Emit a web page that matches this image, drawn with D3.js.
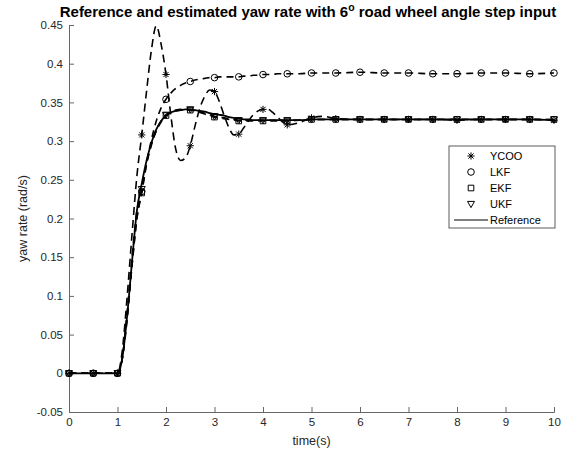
<!DOCTYPE html>
<html>
<head>
<meta charset="utf-8">
<script src="https://cdn.jsdelivr.net/npm/d3@7"></script>
<style>
  body { margin: 0; background: #fff; }
  svg { font-family: "Liberation Sans", Arial, sans-serif; }
</style>
</head>
<body>
<div id="chart"></div>
<script>
// time samples (s)
const time = [0, 0.5, 1.0, 1.1, 1.2, 1.3, 1.4, 1.5, 1.6, 1.7,
  1.8, 1.9, 2.0, 2.1, 2.2, 2.3, 2.4, 2.5, 2.6, 2.7,
  2.8, 2.9, 3.0, 3.1, 3.2, 3.3, 3.4, 3.5, 3.6, 3.7,
  3.8, 3.9, 4.0, 4.1, 4.2, 4.3, 4.4, 4.5, 4.75, 5.0,
  5.25, 5.5, 6.0, 6.5, 7.0, 7.5, 8.0, 8.5, 9.0, 9.5,
  10.0];

const ycoo = [0, 0, 0, 0.03, 0.10, 0.18, 0.255, 0.308, 0.365, 0.418,
  0.449, 0.425, 0.386, 0.333, 0.29, 0.275, 0.278, 0.294, 0.32, 0.343,
  0.358, 0.366, 0.364, 0.351, 0.333, 0.317, 0.308, 0.309, 0.317, 0.326,
  0.334, 0.339, 0.341, 0.341, 0.337, 0.331, 0.325, 0.321, 0.324, 0.330,
  0.332, 0.329, 0.328, 0.328, 0.328, 0.328, 0.327, 0.328, 0.328, 0.328,
  0.327];

const lkf = [0, 0, 0, 0.02, 0.075, 0.14, 0.2, 0.235, 0.272, 0.302,
  0.326, 0.343, 0.354, 0.362, 0.368, 0.372, 0.375, 0.377, 0.379, 0.380,
  0.381, 0.382, 0.382, 0.383, 0.383, 0.383, 0.383, 0.383, 0.384, 0.384,
  0.385, 0.385, 0.386, 0.386, 0.386, 0.387, 0.387, 0.387, 0.387, 0.388,
  0.388, 0.388, 0.389, 0.388, 0.388, 0.387, 0.387, 0.388, 0.388, 0.387,
  0.388];

const ekf = [0, 0, 0, 0.02, 0.07, 0.14, 0.2, 0.233, 0.27, 0.295,
  0.313, 0.325, 0.333, 0.337, 0.339, 0.340, 0.340, 0.340, 0.339, 0.337,
  0.335, 0.333, 0.331, 0.330, 0.329, 0.328, 0.327, 0.326, 0.326, 0.326,
  0.326, 0.326, 0.326, 0.326, 0.326, 0.326, 0.326, 0.326, 0.327, 0.328,
  0.328, 0.328, 0.328, 0.328, 0.328, 0.328, 0.328, 0.328, 0.328, 0.328,
  0.328];

const ukf = [0, 0, 0, 0.02, 0.08, 0.15, 0.21, 0.238, 0.272, 0.297,
  0.314, 0.326, 0.334, 0.338, 0.340, 0.341, 0.341, 0.341, 0.340, 0.338,
  0.336, 0.334, 0.332, 0.331, 0.330, 0.329, 0.328, 0.327, 0.327, 0.327,
  0.327, 0.327, 0.327, 0.327, 0.327, 0.327, 0.327, 0.327, 0.327, 0.328,
  0.328, 0.328, 0.328, 0.328, 0.328, 0.328, 0.328, 0.328, 0.328, 0.328,
  0.328];

const reference = [0, 0, 0, 0.02, 0.075, 0.145, 0.21, 0.245, 0.275, 0.298,
  0.315, 0.326, 0.333, 0.337, 0.339, 0.340, 0.341, 0.341, 0.340, 0.339,
  0.338, 0.336, 0.335, 0.334, 0.333, 0.331, 0.330, 0.329, 0.328, 0.328,
  0.327, 0.327, 0.327, 0.327, 0.327, 0.327, 0.327, 0.327, 0.327, 0.328,
  0.328, 0.328, 0.328, 0.328, 0.328, 0.328, 0.328, 0.328, 0.328, 0.328,
  0.327];

const xTicks = [0, 1, 2, 3, 4, 5, 6, 7, 8, 9, 10];
const yTicks = [-0.05, 0, 0.05, 0.1, 0.15, 0.2, 0.25, 0.3, 0.35, 0.4, 0.45];
const yTickLabels = ["-0.05", "0", "0.05", "0.1", "0.15", "0.2", "0.25", "0.3", "0.35", "0.4", "0.45"];
const legendNames = ["YCOO", "LKF", "EKF", "UKF", "Reference"];

const margin = { top: 25, right: 12, bottom: 42, left: 69 },
  width = 566 - margin.left - margin.right,
  height = 454 - margin.top - margin.bottom;

const svg = d3.select("#chart").append("svg")
  .attr("width", 566)
  .attr("height", 454);

const g = svg.append("g")
  .attr("transform", "translate(" + margin.left + "," + margin.top + ")");

const x = d3.scaleLinear().domain([0, 10]).range([0, width]);
const y = d3.scaleLinear().domain([-0.05, 0.45]).range([height, 0]);

// axes (MATLAB style, ticks pointing inward, box off)
const xAxis = g.append("g")
  .attr("transform", "translate(0," + height + ")")
  .call(d3.axisBottom(x).tickValues(xTicks).tickSize(-5).tickPadding(6).tickFormat(d => String(d)));
const yAxis = g.append("g")
  .call(d3.axisLeft(y).tickValues(yTicks).tickSize(-5).tickPadding(6)
    .tickFormat((d, i) => yTickLabels[i]));

[xAxis, yAxis].forEach(a => {
  a.select(".domain").attr("stroke", "#666").attr("stroke-width", 1);
  a.selectAll(".tick line").attr("stroke", "#666");
  a.selectAll(".tick text").attr("fill", "#262626").style("font-size", "11.5px");
});

// curves
const series = [
  { key: "YCOO", values: ycoo, dash: "8,5", marker: "asterisk" },
  { key: "LKF", values: lkf, dash: "7,5", marker: "circle" },
  { key: "EKF", values: ekf, dash: "7,5", marker: "square" },
  { key: "UKF", values: ukf, dash: "7,5", marker: "triangle" },
  { key: "Reference", values: reference, dash: null, marker: null }
];

const line = d3.line()
  .x((d, i) => x(time[i]))
  .y(d => y(d))
  .curve(d3.curveMonotoneX);

series.forEach(s => {
  g.append("path")
    .attr("d", line(s.values))
    .attr("fill", "none")
    .attr("stroke", "#000")
    .attr("stroke-width", s.dash ? 1.6 : 1.8)
    .attr("stroke-dasharray", s.dash);
});

function markerPath(type) {
  if (type === "asterisk") {
    const r = 3.6, q = r * 0.72;
    return "M" + -r + ",0L" + r + ",0M0," + -r + "L0," + r +
      "M" + -q + "," + -q + "L" + q + "," + q + "M" + -q + "," + q + "L" + q + "," + -q;
  }
  if (type === "circle") {
    const r = 3.3;
    return "M" + r + ",0A" + r + "," + r + " 0 1,1 " + -r + ",0A" + r + "," + r + " 0 1,1 " + r + ",0Z";
  }
  if (type === "square") {
    const r = 2.8;
    return "M" + -r + "," + -r + "H" + r + "V" + r + "H" + -r + "Z";
  }
  if (type === "triangle") {
    return "M-3.5,-2.6L3.5,-2.6L0,3.6Z";
  }
  return "";
}

// markers every 0.5 s
series.filter(s => s.marker).forEach(s => {
  const pts = time.map((t, i) => ({ t: t, v: s.values[i] }))
    .filter(d => Math.abs(d.t * 2 - Math.round(d.t * 2)) < 1e-9);
  g.selectAll(".m-" + s.key)
    .data(pts)
    .enter()
    .append("path")
    .attr("transform", d => "translate(" + x(d.t) + "," + y(d.v) + ")")
    .attr("d", markerPath(s.marker))
    .attr("fill", "none")
    .attr("stroke", "#000")
    .attr("stroke-width", 1);
});

// title
const title = svg.append("text")
  .attr("x", 308)
  .attr("y", 17)
  .attr("text-anchor", "middle")
  .style("font-size", "15px")
  .style("font-weight", "bold")
  .attr("fill", "#000");
title.append("tspan").text("Reference and estimated yaw rate with 6");
title.append("tspan").attr("dy", -6).style("font-size", "10.5px").text("o");
title.append("tspan").attr("dy", 6).text(" road wheel angle step input");

// axis labels
svg.append("text")
  .attr("x", margin.left + width / 2)
  .attr("y", 445)
  .attr("text-anchor", "middle")
  .style("font-size", "12.5px")
  .attr("fill", "#262626")
  .text("time(s)");

svg.append("text")
  .attr("transform", "translate(27," + (margin.top + height / 2) + ") rotate(-90)")
  .attr("text-anchor", "middle")
  .style("font-size", "12.5px")
  .attr("fill", "#262626")
  .text("yaw rate (rad/s)");

// legend
const lg = svg.append("g").attr("transform", "translate(449,146)");
lg.append("rect")
  .attr("width", 106)
  .attr("height", 82)
  .attr("fill", "#fff")
  .attr("stroke", "#333")
  .attr("stroke-width", 0.8);

legendNames.forEach((name, i) => {
  const s = series.find(d => d.key === name);
  const row = lg.append("g").attr("transform", "translate(0," + (10 + i * 16) + ")");
  if (s.marker) {
    row.append("path")
      .attr("transform", "translate(22,0)")
      .attr("d", markerPath(s.marker))
      .attr("fill", "none")
      .attr("stroke", "#000")
      .attr("stroke-width", 1);
  } else {
    row.append("line")
      .attr("x1", 5).attr("x2", 39)
      .attr("stroke", "#000").attr("stroke-width", 1.2);
  }
  row.append("text")
    .attr("x", 41)
    .attr("dy", "0.35em")
    .style("font-size", "11px")
    .attr("fill", "#000")
    .text(name);
});
</script>
</body>
</html>
